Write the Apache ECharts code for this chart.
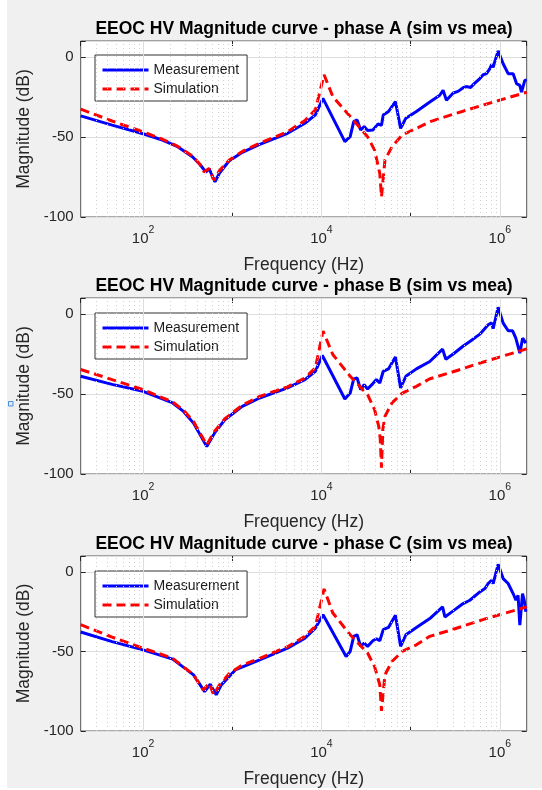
<!DOCTYPE html>
<html>
<head>
<meta charset="utf-8">
<title>EEOC HV Magnitude curves</title>
<script src="https://cdn.jsdelivr.net/npm/echarts@6/dist/echarts.min.js"></script>
<style>
  html, body { margin: 0; padding: 0; background: #fff; }
  #chart { width: 542px; height: 790px; }
</style>
</head>
<body>
<div id="chart"></div>
<script>
// frequency (Hz), magnitude (dB)
var measA = [[20,-36.8],[45,-42.6],[100,-48],[165,-51.9],[240,-55.8],[360,-62.5],[440,-67.5],[505,-72],[550,-69.8],[640,-78],[720,-72.5],[920,-65],[1300,-59.6],[2000,-54.8],[4170,-47.7],[6530,-41.4],[8550,-36.2],[10400,-25.9],[18300,-52.9],[21000,-49.8],[23000,-40.4],[25100,-39.3],[27500,-45.6],[30100,-43.5],[32900,-46],[37700,-45.6],[43100,-41.8],[47100,-42.7],[49300,-36.2],[56400,-34.1],[67500,-27.8],[77200,-44.6],[88400,-38.3],[116000,-34.1],[164000,-28.1],[212000,-23.9],[231000,-20.8],[252000,-27],[300000,-22.5],[340000,-21.5],[388000,-19.2],[420000,-18.5],[440000,-17.5],[470000,-19],[520000,-16.5],[597000,-13.5],[650000,-11.1],[708000,-10.4],[773000,-7.3],[810000,-4.6],[841000,-6.5],[870000,-3.5],[957000,3.8],[1089000,-4.2],[1239000,-10.4],[1409000,-10.4],[1538000,-16.6],[1675000,-17.7],[1750000,-21.9],[1905000,-14.6],[2000000,-14.3]];
var simA = [[20,-32.6],[45,-40],[100,-46.8],[165,-51.4],[240,-55.6],[360,-62],[440,-67.5],[482,-71.8],[551,-69.7],[620,-77],[720,-71],[920,-64.5],[1300,-59],[2000,-54],[4170,-46.7],[6530,-39.7],[8550,-33],[10700,-11.1],[13400,-24.7],[21000,-37.2],[32900,-49.8],[39400,-58.2],[45100,-72.8],[47100,-87.4],[51500,-64.4],[61700,-56.1],[80700,-48.7],[116000,-44.6],[164000,-40.5],[284000,-36.2],[698000,-29.5],[2000000,-22]];

var measB = [[20,-38.9],[45,-44],[100,-48.3],[215,-55.6],[284,-60.9],[368,-68.2],[518,-82.8],[631,-74.5],[826,-66.1],[1295,-57.7],[2028,-52.5],[4169,-46.2],[6530,-41],[8550,-35.8],[10240,-25.9],[18300,-53.1],[21000,-49.4],[23000,-40.6],[25100,-40],[27500,-47.3],[30100,-44.1],[32900,-46.9],[37700,-43.5],[41300,-41],[45100,-43.1],[49300,-35.8],[56400,-34.3],[67500,-26.8],[77200,-46.2],[88400,-38.9],[116000,-34.3],[164000,-29.7],[228000,-22],[248000,-28.3],[300000,-25],[389000,-20],[461000,-17.2],[597000,-12.6],[740000,-6.7],[807000,-5.5],[841000,-9.2],[957000,4.2],[1090000,-5.7],[1240000,-10.5],[1390000,-10.5],[1510000,-15.1],[1675000,-24.5],[1800000,-15.1],[1955000,-18.2]];
var simB = [[20,-34.7],[45,-41],[100,-47.3],[215,-55],[284,-60.2],[368,-67.2],[518,-81.8],[631,-73.4],[826,-65.5],[1295,-57],[2028,-51.5],[4169,-45.5],[6530,-40],[8550,-33.7],[10420,-10.7],[13400,-25.3],[21000,-38.9],[32900,-50.4],[39400,-59.8],[43900,-70.3],[45600,-78],[47100,-96],[48800,-72],[51500,-64],[61700,-55.6],[80700,-49.4],[116000,-45.2],[164000,-40.5],[284000,-36.5],[698000,-29.5],[2000000,-21.8]];

var measC = [[20,-37.8],[45,-43.8],[100,-49],[215,-54.8],[368,-64.7],[490,-75.2],[566,-70.6],[661,-77.3],[755,-71],[1082,-61.6],[2028,-55.3],[4169,-47.9],[6530,-41.6],[8550,-35.3],[10420,-26.9],[18900,-53.2],[21000,-50],[23000,-40.5],[25100,-39.5],[27500,-46.8],[30100,-44.7],[32900,-46.8],[37700,-43.3],[41300,-42],[45100,-43.3],[49300,-36.3],[56400,-34.9],[67500,-27.3],[77200,-46.8],[88400,-39.5],[116000,-34.9],[164000,-29.3],[228000,-22],[242000,-28.3],[300000,-24.5],[388000,-19.9],[461000,-17.8],[597000,-12.6],[680000,-10.5],[740000,-7.3],[807000,-5.3],[841000,-7.3],[957000,4.8],[1089000,-4.2],[1239000,-7.3],[1409000,-13.6],[1514000,-17.8],[1600000,-14.7],[1675000,-33.5],[1795000,-13.6],[1875000,-17.8],[1955000,-25]];
var simC = [[20,-33.2],[45,-41],[100,-47.9],[215,-54.3],[368,-64.7],[473,-74.2],[551,-70],[620,-77.3],[720,-71],[920,-64],[1300,-58.5],[2000,-54.5],[4169,-47],[6530,-40.5],[8550,-34.2],[10700,-10.7],[13400,-25.8],[21000,-39.5],[32900,-51],[39400,-59.5],[45100,-71],[47100,-87.4],[51500,-64.7],[61700,-56.3],[80700,-50],[116000,-45.8],[164000,-40.5],[284000,-36.5],[698000,-29.4],[2000000,-22]];

var titles = [
  'EEOC HV Magnitude curve - phase A (sim vs mea)',
  'EEOC HV Magnitude curve - phase B (sim vs mea)',
  'EEOC HV Magnitude curve - phase C (sim vs mea)'
];
var seriesNames = ['Measurement', 'Simulation'];
var xName = 'Frequency (Hz)';
var yName = 'Magnitude (dB)';
var xRange = [20, 2e6];
var yRange = [-100, 10];
var majorFreqs = [1e2, 1e4, 1e6];   // labelled decades

var measData = [measA, measB, measC];
var simData = [simA, simB, simC];

// layout of the three axes boxes
var panelTop = [41, 298, 556];
var panelHeight = [176, 176, 175];
var titleTop = [20, 277, 535];
var legendTop = [55, 313, 571];

var FONT = '"Liberation Sans", Arial, Helvetica, sans-serif';
var INK = '#262626';

// minor (dotted) vertical grid: 2..9 x 10^k plus unlabelled decades
var minorFreqs = [];
for (var k = 1; k <= 6; k++) {
  for (var m = 1; m <= 9; m++) {
    var f = m * Math.pow(10, k);
    if (f <= xRange[0] || f >= xRange[1]) continue;
    if (majorFreqs.indexOf(f) >= 0) continue;
    minorFreqs.push(f);
  }
}

function decadeLabel(v) {
  var e = Math.log10(v);
  var r = Math.round(e);
  if (Math.abs(e - r) > 1e-6 || majorFreqs.indexOf(Math.pow(10, r)) < 0) return '';
  return '{b|10}{s|' + r + '}';
}

var chart = echarts.init(document.getElementById('chart'), null, { renderer: 'canvas' });

var option = {
  backgroundColor: '#f0f0f0',
  animation: false,
  textStyle: { fontFamily: FONT },
  title: [], grid: [], xAxis: [], yAxis: [], legend: [], series: [],
  graphic: [
    { type: 'rect', left: 0, top: 0, shape: { width: 7, height: 790 }, style: { fill: '#fff' } },
    { type: 'rect', left: 0, top: 788, shape: { width: 542, height: 2 }, style: { fill: '#fff' } },
    { type: 'rect', shape: { x: 8.5, y: 401.5, width: 4.5, height: 4.5 }, style: { fill: '#dbeaf8', stroke: '#4f8fd6', lineWidth: 1 } }
  ]
};

for (var i = 0; i < 3; i++) {
  option.title.push({
    text: titles[i], left: 304, top: titleTop[i], textAlign: 'center', padding: 0,
    textStyle: { fontSize: 17.5, fontWeight: 'bold', color: '#000', fontFamily: FONT }
  });
  option.grid.push({
    left: 80.7, right: 15.3, top: panelTop[i], height: panelHeight[i],
    show: true, backgroundColor: '#fff', borderColor: '#555', borderWidth: 1,
    containLabel: false, outerBoundsMode: 'none'
  });
  option.xAxis.push({
    gridIndex: i, type: 'log', logBase: 10, min: xRange[0], max: xRange[1], position: 'bottom',
    axisLine: { show: false, onZero: false },
    axisTick: { inside: true, length: 5, lineStyle: { color: INK } },
    splitLine: { show: false },
    axisLabel: {
      formatter: decadeLabel, margin: 8, showMinLabel: false, showMaxLabel: false,
      rich: {
        b: { fontSize: 15, color: INK, fontFamily: FONT, lineHeight: 21, verticalAlign: 'bottom' },
        s: { fontSize: 10.5, color: INK, fontFamily: FONT, lineHeight: 12, verticalAlign: 'top' }
      }
    },
    name: xName, nameLocation: 'middle', nameGap: 39,
    nameTextStyle: { fontSize: 17.5, color: INK, fontFamily: FONT }
  });
  option.xAxis.push({
    gridIndex: i, type: 'log', logBase: 10, min: xRange[0], max: xRange[1], position: 'top',
    axisLine: { show: false, onZero: false }, axisLabel: { show: false }, splitLine: { show: false },
    axisTick: { inside: true, length: 5, lineStyle: { color: INK } }
  });
  option.yAxis.push({
    gridIndex: i, type: 'value', min: yRange[0], max: yRange[1], interval: 50, position: 'left',
    axisLine: { show: false, onZero: false },
    axisTick: { inside: true, length: 5, lineStyle: { color: INK } },
    splitLine: { show: true, lineStyle: { color: '#dedede', width: 1 } },
    axisLabel: {
      margin: 7, fontSize: 15, color: INK, fontFamily: FONT,
      formatter: function (v) { return v % 50 === 0 ? String(v) : ''; }
    },
    name: yName, nameLocation: 'middle', nameGap: 41, nameRotate: 90,
    nameTextStyle: { fontSize: 17.5, color: INK, fontFamily: FONT }
  });
  option.yAxis.push({
    gridIndex: i, type: 'value', min: yRange[0], max: yRange[1], interval: 50, position: 'right',
    axisLine: { show: false, onZero: false }, axisLabel: { show: false }, splitLine: { show: false },
    axisTick: { inside: true, length: 5, lineStyle: { color: INK } }
  });
  option.legend.push({
    left: 95, top: legendTop[i], orient: 'vertical', data: seriesNames, selectedMode: false,
    backgroundColor: '#fff', borderColor: '#333', borderWidth: 1, borderRadius: 0,
    padding: [8, 8, 5, 6], itemWidth: 46, itemHeight: 14, itemGap: 5,
    itemStyle: { opacity: 0 },
    lineStyle: { width: 3 },
    textStyle: { fontSize: 14, color: '#1a1a1a', fontFamily: FONT, lineHeight: 14 }
  });

  var gridLines = majorFreqs.map(function (f) {
    return { xAxis: f, lineStyle: { color: '#dedede', type: 'solid', width: 1 } };
  }).concat(minorFreqs.map(function (f) {
    return { xAxis: f, lineStyle: { color: '#cfcfcf', type: [1, 3], width: 1 } };
  }));

  option.series.push({
    type: 'line', xAxisIndex: 2 * i, yAxisIndex: 2 * i, data: [], silent: true, z: 1,
    markLine: { silent: true, symbol: ['none', 'none'], label: { show: false }, emphasis: { disabled: true }, data: gridLines }
  });
  option.series.push({
    type: 'line', name: seriesNames[0], xAxisIndex: 2 * i, yAxisIndex: 2 * i,
    data: measData[i], symbol: 'none', showSymbol: false, z: 3,
    itemStyle: { color: '#0000ff' },
    lineStyle: { color: '#0000ff', width: 3 },
    emphasis: { disabled: true }
  });
  option.series.push({
    type: 'line', name: seriesNames[1], xAxisIndex: 2 * i, yAxisIndex: 2 * i,
    data: simData[i], symbol: 'none', showSymbol: false, z: 4,
    itemStyle: { color: '#ff0000' },
    lineStyle: { color: '#ff0000', width: 3, type: [9, 5] },
    emphasis: { disabled: true }
  });
}

chart.setOption(option);
</script>
</body>
</html>
